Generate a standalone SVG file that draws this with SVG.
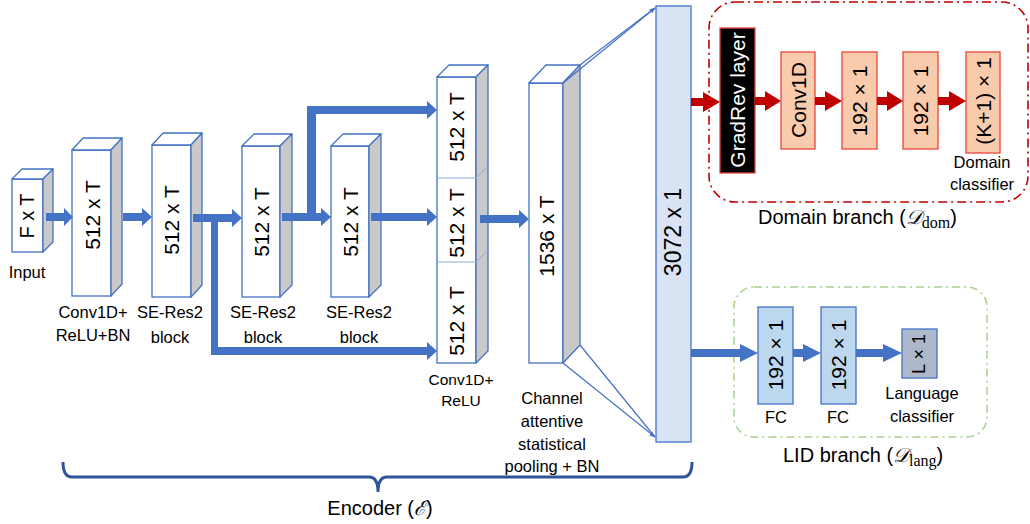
<svg xmlns="http://www.w3.org/2000/svg" width="1030" height="524" viewBox="0 0 1030 524">
<style>
text{font-family:"Liberation Sans",Arial,sans-serif;fill:#000}
.bl{font-size:21px;text-anchor:middle}
.lb{font-size:16.5px;text-anchor:middle}
.sm{font-size:15.5px;text-anchor:middle}
.fr{fill:#fff;stroke:#4472c4;stroke-width:1.3}
.tp{fill:#fff;stroke:#4472c4;stroke-width:1.3;stroke-linejoin:round}
.sd{fill:#c9c9c9;stroke:#4472c4;stroke-width:1.3;stroke-linejoin:round}
.ba{fill:#4472c4}
.ra{fill:#c00000}
.dm{fill:#f8cbad;stroke:#e8453c;stroke-width:1.3}
.fc{fill:#bdd7ee;stroke:#4472c4;stroke-width:1.3}
.thin{stroke:#4472c4;stroke-width:1.2;fill:none}
.math{font-family:"DejaVu Serif","Liberation Serif",serif}
.sub{font-family:"Liberation Serif","DejaVu Serif",serif}
</style>
<defs>
<marker id="ah" viewBox="0 0 10 10" refX="9" refY="5" markerWidth="6" markerHeight="6" orient="auto" markerUnits="userSpaceOnUse">
<path d="M0,1 L10,5 L0,9 z" fill="#4472c4"/>
</marker>
</defs>

<g id="input">
<rect class="fr" x="12" y="179" width="31" height="73"/>
<polygon class="tp" points="12,179 22,169 53,169 43,179"/>
<polygon class="sd" points="43,179 53,169 53,242 43,252"/>
<text class="bl" font-size="20" transform="translate(27,216) rotate(-90)" dy="0.36em" style="font-size:20px">F x T</text>
<text class="lb" x="27" y="278">Input</text>
</g>

<g id="conv1d-relu-bn">
<rect class="fr" x="72" y="150" width="39" height="146"/>
<polygon class="tp" points="72,150 83,138 122,138 111,150"/>
<polygon class="sd" points="111,150 122,138 122,284 111,296"/>
<text class="bl" transform="translate(92,215) rotate(-90)" dy="0.36em">512 x T</text>
<text class="lb" x="93" y="318">Conv1D+</text>
<text class="lb" x="93" y="341">ReLU+BN</text>
</g>

<g id="se-res2-1">
<rect class="fr" x="152" y="145" width="39" height="152"/>
<polygon class="tp" points="152,145 163,133 202,133 191,145"/>
<polygon class="sd" points="191,145 202,133 202,285 191,297"/>
<text class="bl" transform="translate(171,220) rotate(-90)" dy="0.36em">512 x T</text>
<text class="lb" x="170" y="318">SE-Res2</text>
<text class="lb" x="170" y="343">block</text>
</g>

<g id="se-res2-2">
<rect class="fr" x="242" y="146" width="38" height="151"/>
<polygon class="tp" points="242,146 254,134 292,134 280,146"/>
<polygon class="sd" points="280,146 292,134 292,285 280,297"/>
<text class="bl" transform="translate(261,222) rotate(-90)" dy="0.36em">512 x T</text>
<text class="lb" x="263" y="318">SE-Res2</text>
<text class="lb" x="263" y="343">block</text>
</g>

<g id="se-res2-3">
<rect class="fr" x="331" y="146" width="38" height="151"/>
<polygon class="tp" points="331,146 343,134 381,134 369,146"/>
<polygon class="sd" points="369,146 381,134 381,285 369,297"/>
<text class="bl" transform="translate(350,222) rotate(-90)" dy="0.36em">512 x T</text>
<text class="lb" x="359" y="318">SE-Res2</text>
<text class="lb" x="359" y="343">block</text>
</g>

<g id="conv1d-relu">
<rect class="fr" x="437" y="77" width="39" height="286"/>
<polygon class="tp" points="437,77 449,65 488,65 476,77"/>
<polygon class="sd" points="476,77 488,65 488,351 476,363"/>
<path d="M437,178 H476 L488,166 M437,262 H476 L488,250" stroke="#8faadc" stroke-width="1" fill="none"/>
<text class="bl" transform="translate(456,127) rotate(-90)" dy="0.36em">512 x T</text>
<text class="bl" transform="translate(456,223) rotate(-90)" dy="0.36em">512 x T</text>
<text class="bl" transform="translate(456,321) rotate(-90)" dy="0.36em">512 x T</text>
<text class="sm" x="461" y="385">Conv1D+</text>
<text class="sm" x="461" y="406">ReLU</text>
</g>

<g id="pooling">
<rect class="fr" x="529" y="83" width="34" height="280"/>
<polygon class="tp" points="529,83 546,65 580,65 563,83"/>
<polygon class="sd" points="563,83 580,65 580,345 563,363"/>
<text class="bl" transform="translate(546,236) rotate(-90)" dy="0.36em">1536 x T</text>
<text class="lb" x="552" y="404">Channel</text>
<text class="lb" x="552" y="427">attentive</text>
<text class="lb" x="552" y="450">statistical</text>
<text class="lb" x="552" y="472">pooling + BN</text>
</g>

<g id="embedding">
<rect x="656" y="6" width="35" height="436" fill="#dae3f3" stroke="#4472c4" stroke-width="1.3"/>
<text class="bl" transform="translate(673,232) rotate(-90)" dy="0.36em" style="font-size:23px">3072 x 1</text>
</g>

<g id="domain-branch">
<rect x="709" y="2" width="319" height="200" rx="26" fill="none" stroke="#c00000" stroke-width="1.6" stroke-dasharray="9,4,2,4"/>
<rect x="720" y="28" width="35" height="145" fill="#000" stroke="#e8453c" stroke-width="1.3"/>
<text class="bl" transform="translate(737,100) rotate(-90)" dy="0.36em" style="fill:#fff">GradRev layer</text>
<rect class="dm" x="781" y="52" width="34" height="97"/>
<text class="bl" transform="translate(798,100) rotate(-90)" dy="0.36em">Conv1D</text>
<rect class="dm" x="842" y="52" width="35" height="97"/>
<text class="bl" transform="translate(859,101) rotate(-90)" dy="0.36em">192 × 1</text>
<rect class="dm" x="903" y="52" width="35" height="97"/>
<text class="bl" transform="translate(920,101) rotate(-90)" dy="0.36em">192 × 1</text>
<rect class="dm" x="966" y="52" width="34" height="101"/>
<text class="bl" transform="translate(983,101) rotate(-90)" dy="0.36em">(K+1) × 1</text>
<text class="lb" x="982" y="168">Domain</text>
<text class="lb" x="982" y="190">classifier</text>
<text x="758" y="224" style="font-size:20px">Domain branch (<tspan class="math" style="font-style:italic">𝒟</tspan><tspan class="sub" dy="4" style="font-size:16px">dom</tspan><tspan dy="-4">)</tspan></text>
</g>

<g id="lid-branch">
<rect x="734" y="287" width="253" height="150" rx="20" fill="none" stroke="#a9d18e" stroke-width="1.5" stroke-dasharray="8,4,2,4"/>
<rect class="fc" x="758" y="307" width="35" height="97"/>
<text class="bl" transform="translate(775,355) rotate(-90)" dy="0.36em">192 × 1</text>
<rect class="fc" x="821" y="307" width="35" height="97"/>
<text class="bl" transform="translate(838,355) rotate(-90)" dy="0.36em">192 × 1</text>
<rect x="902" y="329" width="35" height="49" fill="#adb9ca" stroke="#4472c4" stroke-width="1.3"/>
<text class="bl" transform="translate(919,354) rotate(-90)" dy="0.36em" style="font-size:18px">L × 1</text>
<text class="lb" x="776" y="423">FC</text>
<text class="lb" x="838" y="423">FC</text>
<text class="lb" x="922" y="399">Language</text>
<text class="lb" x="922" y="422">classifier</text>
<text x="783" y="462" style="font-size:20px">LID branch (<tspan class="math" style="font-style:italic">𝒟</tspan><tspan class="sub" dy="4" style="font-size:16px">lang</tspan><tspan dy="-4">)</tspan></text>
</g>

<g id="encoder-brace">
<path d="M63,462 Q63,477 72,477 L369,477 Q378,477 378,492 Q378,477 387,477 L683,477 Q692,477 692,462" fill="none" stroke="#2f5597" stroke-width="3"/>
<text x="380" y="515" style="font-size:20px;text-anchor:middle">Encoder (<tspan class="math" style="font-style:italic">ℰ</tspan>)</text>
</g>

<g id="connectors">
<polygon class="ba" points="46,213 64,213 64,208 73,217 64,226 64,221 46,221"/>
<polygon class="ba" points="123,213 142,213 142,208 152,217 142,226 142,221 123,221"/>
<polygon class="ba" points="193,214 232,214 232,209 242,218 232,227 232,222 193,222"/>
<polygon class="ba" points="211,214 218,214 218,347 427,347 427,342 437,351 427,360 427,355 211,355"/>
<polygon class="ba" points="282,213 321,213 321,208 331,217 321,226 321,221 282,221"/>
<polygon class="ba" points="307,221 307,106 427,106 427,101 437,110 427,119 427,114 316,114 316,221"/>
<polygon class="ba" points="371,213 427,213 427,208 437,217 427,226 427,221 371,221"/>
<polygon class="ba" points="480,215 519,215 519,210 529,219 519,228 519,223 480,223"/>
<line class="thin" x1="563" y1="83" x2="655" y2="8" marker-end="url(#ah)"/>
<line class="thin" x1="580" y1="65" x2="655" y2="8"/>
<line class="thin" x1="563" y1="363" x2="655" y2="437" marker-end="url(#ah)"/>
<line class="thin" x1="580" y1="345" x2="655" y2="437"/>
<polygon class="ra" points="691,98 703,98 703,92 720,102 703,112 703,106 691,106"/>
<polygon class="ra" points="755,97 765,97 765,91 781,101 765,111 765,105 755,105"/>
<polygon class="ra" points="815,97 825,97 825,91 842,101 825,111 825,105 815,105"/>
<polygon class="ra" points="877,97 887,97 887,91 903,101 887,111 887,105 877,105"/>
<polygon class="ra" points="938,97 949,97 949,91 966,101 949,111 949,105 938,105"/>
<polygon class="ba" points="691,349 740,349 740,344 758,353 740,362 740,357 691,357"/>
<polygon class="ba" points="793,349 803,349 803,344 821,353 803,362 803,357 793,357"/>
<polygon class="ba" points="856,349 883,349 883,344 902,353 883,362 883,357 856,357"/>
</g>
</svg>
